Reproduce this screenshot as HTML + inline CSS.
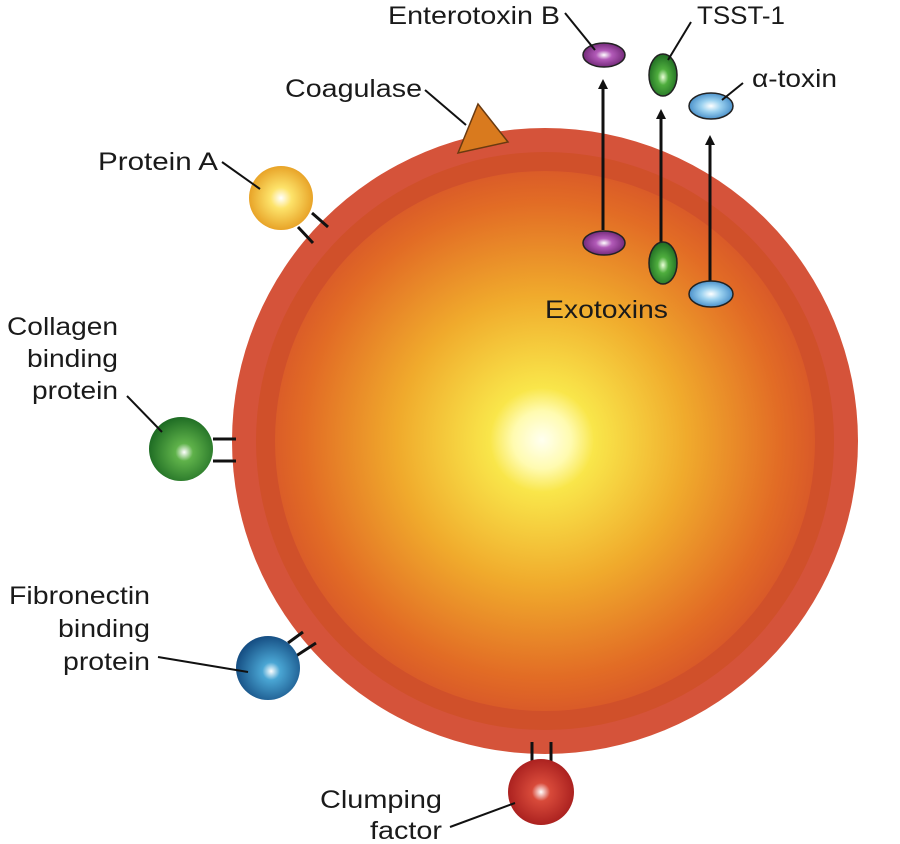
<!DOCTYPE html>
<html><head><meta charset="utf-8"><style>
html,body{margin:0;padding:0;background:#fff;}
svg{display:block;}
text{font-family:"Liberation Sans",sans-serif;font-size:25px;fill:#1a1a1a;}
</style></head><body>
<svg width="900" height="844" viewBox="0 0 900 844" xmlns="http://www.w3.org/2000/svg">
<defs>
<radialGradient id="core" cx="542" cy="440" r="290" gradientUnits="userSpaceOnUse">
<stop offset="0" stop-color="#fffff0"/>
<stop offset="0.1" stop-color="#fffbb0"/>
<stop offset="0.18" stop-color="#f9e64a"/>
<stop offset="0.5" stop-color="#f0aa2c"/>
<stop offset="0.82" stop-color="#e26c25"/>
<stop offset="1" stop-color="#d5512a"/>
</radialGradient>
<radialGradient id="gy" cx="0.5" cy="0.5" r="0.55"><stop offset="0" stop-color="#fff"/><stop offset="0.3" stop-color="#fde36a"/><stop offset="1" stop-color="#e59a1e"/></radialGradient>
<radialGradient id="gg" cx="0.55" cy="0.55" r="0.55"><stop offset="0" stop-color="#fff"/><stop offset="0.25" stop-color="#5fb24a"/><stop offset="1" stop-color="#1f6d24"/></radialGradient>
<radialGradient id="gb" cx="0.55" cy="0.55" r="0.55"><stop offset="0" stop-color="#fff"/><stop offset="0.25" stop-color="#4aa6d4"/><stop offset="1" stop-color="#164f84"/></radialGradient>
<radialGradient id="gr" cx="0.5" cy="0.5" r="0.55"><stop offset="0" stop-color="#fff"/><stop offset="0.25" stop-color="#d84a3a"/><stop offset="1" stop-color="#a51c1c"/></radialGradient>
<radialGradient id="gp" cx="0.5" cy="0.5" r="0.55"><stop offset="0" stop-color="#fff"/><stop offset="0.35" stop-color="#b25ab8"/><stop offset="1" stop-color="#6a2370"/></radialGradient>
<radialGradient id="gg2" cx="0.5" cy="0.55" r="0.55"><stop offset="0" stop-color="#eaffd8"/><stop offset="0.35" stop-color="#4fae3e"/><stop offset="1" stop-color="#1e6b22"/></radialGradient>
<radialGradient id="gb2" cx="0.5" cy="0.5" r="0.55"><stop offset="0" stop-color="#fff"/><stop offset="0.4" stop-color="#9cd2f0"/><stop offset="1" stop-color="#3d86c4"/></radialGradient>
<marker id="ah" markerWidth="10" markerHeight="10" refX="5" refY="5" orient="auto" markerUnits="userSpaceOnUse"><path d="M0,0 L10,5 L0,10 z" fill="#111"/></marker>
</defs>
<circle cx="545" cy="441" r="313" fill="#d5533a"/>
<circle cx="545" cy="441" r="289" fill="#d0502a"/>
<circle cx="545" cy="441" r="270" fill="url(#core)"/>
<polygon points="458,153 478,104 508,142" fill="#d97a1e" stroke="#6a3a10" stroke-width="1.5"/>
<line x1="425" y1="90" x2="466" y2="125" stroke="#111" stroke-width="2"/>
<text x="285" y="97" textLength="137" lengthAdjust="spacingAndGlyphs">Coagulase</text>
<g stroke="#111" stroke-width="3">
<line x1="298" y1="227" x2="313" y2="243"/><line x1="312" y1="213" x2="328" y2="227"/>
<line x1="213" y1="439" x2="236" y2="439"/><line x1="213" y1="461" x2="236" y2="461"/>
<line x1="288" y1="643" x2="303" y2="632"/><line x1="296" y1="656" x2="316" y2="643"/>
<line x1="532" y1="742" x2="532" y2="764"/><line x1="551" y1="742" x2="551" y2="764"/>
</g>
<circle cx="281" cy="198" r="32" fill="url(#gy)"/>
<circle cx="181" cy="449" r="32" fill="url(#gg)"/>
<circle cx="268" cy="668" r="32" fill="url(#gb)"/>
<circle cx="541" cy="792" r="33" fill="url(#gr)"/>
<g stroke="#111" stroke-width="2">
<line x1="222" y1="162" x2="260" y2="189"/>
<line x1="127" y1="396" x2="162" y2="432"/>
<line x1="158" y1="657" x2="248" y2="672"/>
<line x1="450" y1="827" x2="515" y2="803"/>
</g>
<text x="98" y="170" textLength="120" lengthAdjust="spacingAndGlyphs">Protein A</text>
<text x="7" y="335" textLength="111" lengthAdjust="spacingAndGlyphs">Collagen</text>
<text x="27" y="367" textLength="91" lengthAdjust="spacingAndGlyphs">binding</text>
<text x="32" y="399" textLength="86" lengthAdjust="spacingAndGlyphs">protein</text>
<text x="9" y="604" textLength="141" lengthAdjust="spacingAndGlyphs">Fibronectin</text>
<text x="58" y="637" textLength="92" lengthAdjust="spacingAndGlyphs">binding</text>
<text x="63" y="670" textLength="87" lengthAdjust="spacingAndGlyphs">protein</text>
<text x="320" y="808" textLength="122" lengthAdjust="spacingAndGlyphs">Clumping</text>
<text x="370" y="839" textLength="72" lengthAdjust="spacingAndGlyphs">factor</text>
<g stroke="#111" stroke-width="3">
<line x1="603" y1="230" x2="603" y2="84" marker-end="url(#ah)"/>
<line x1="661" y1="244" x2="661" y2="114" marker-end="url(#ah)"/>
<line x1="710" y1="282" x2="710" y2="140" marker-end="url(#ah)"/>
</g>
<g stroke="#222" stroke-width="1.5">
<ellipse cx="604" cy="55" rx="21" ry="12" fill="url(#gp)"/>
<ellipse cx="604" cy="243" rx="21" ry="12" fill="url(#gp)"/>
<ellipse cx="663" cy="75" rx="14" ry="21" fill="url(#gg2)"/>
<ellipse cx="663" cy="263" rx="14" ry="21" fill="url(#gg2)"/>
<ellipse cx="711" cy="106" rx="22" ry="13" fill="url(#gb2)"/>
<ellipse cx="711" cy="294" rx="22" ry="13" fill="url(#gb2)"/>
</g>
<g stroke="#111" stroke-width="2">
<line x1="565" y1="13" x2="595" y2="50"/>
<line x1="691" y1="22" x2="668" y2="60"/>
<line x1="743" y1="83" x2="722" y2="100"/>
</g>
<text x="388" y="24" textLength="172" lengthAdjust="spacingAndGlyphs">Enterotoxin B</text>
<text x="697" y="24" textLength="88" lengthAdjust="spacingAndGlyphs">TSST-1</text>
<text x="752" y="87" textLength="85" lengthAdjust="spacingAndGlyphs">α-toxin</text>
<text x="545" y="318" textLength="123" lengthAdjust="spacingAndGlyphs">Exotoxins</text>
</svg>
</body></html>
